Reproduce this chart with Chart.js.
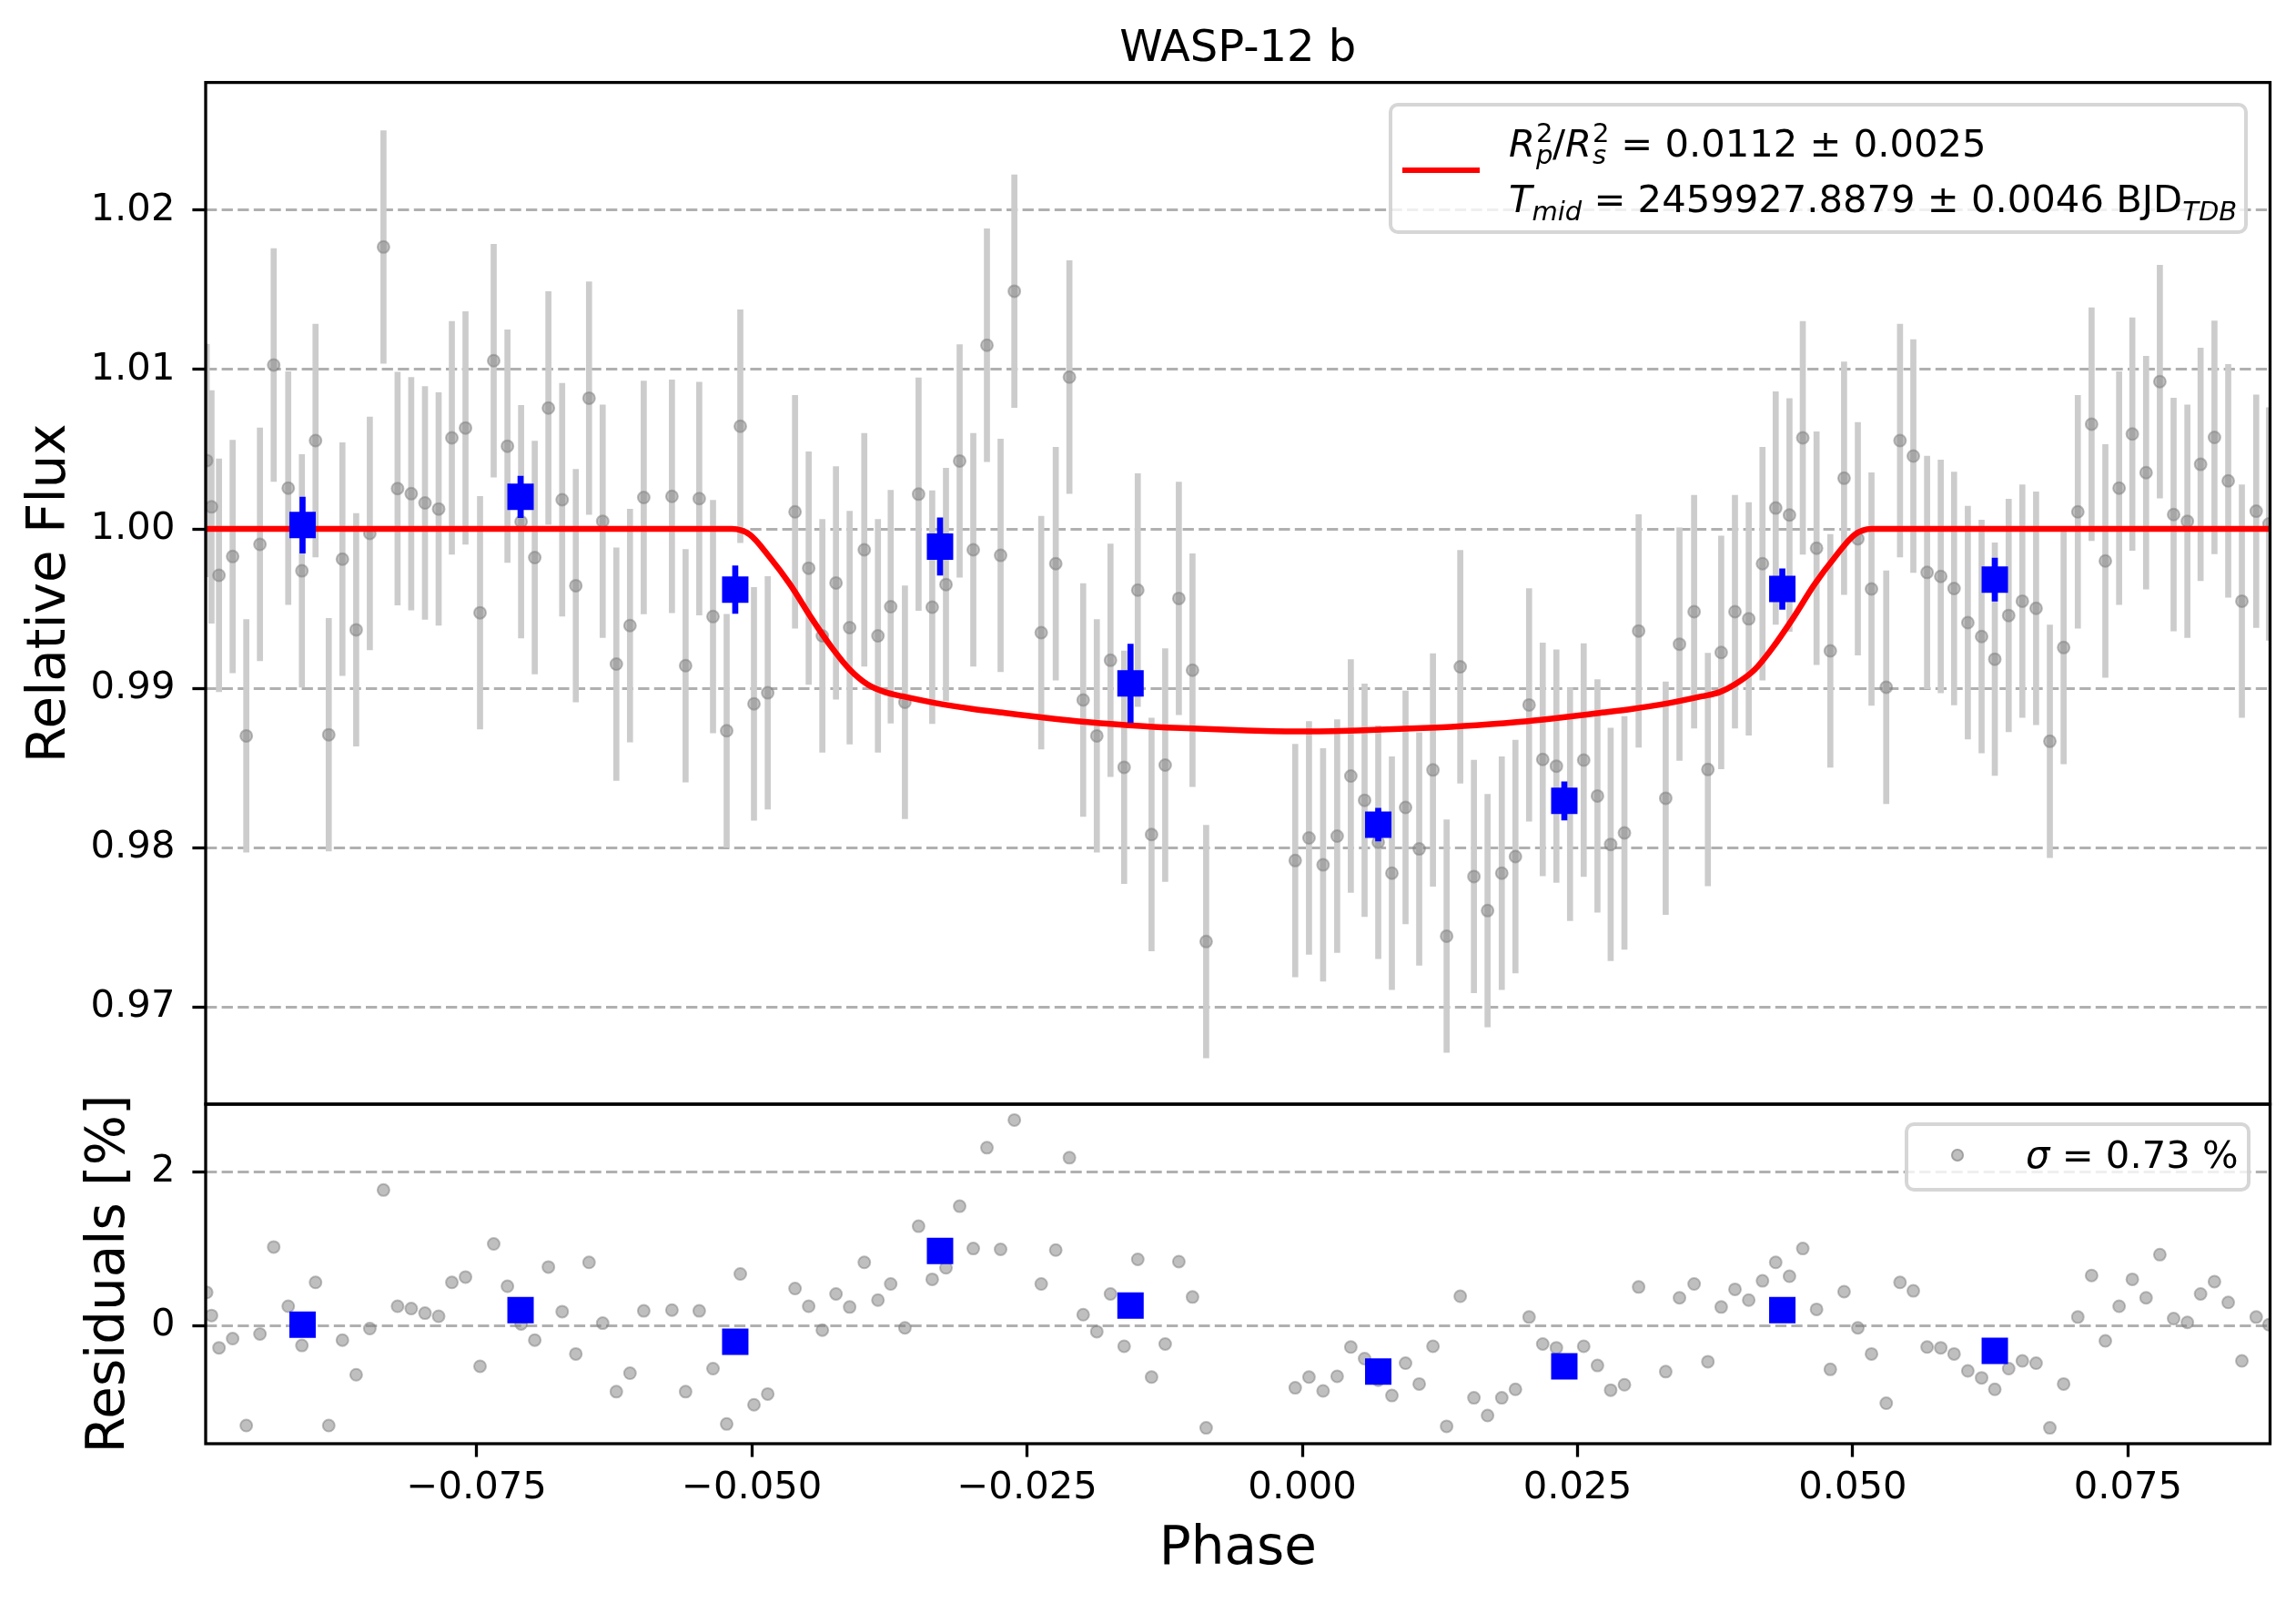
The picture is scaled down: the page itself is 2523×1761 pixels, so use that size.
<!DOCTYPE html>
<html>
<head>
<meta charset="utf-8">
<title>WASP-12 b</title>
<script src="https://cdn.jsdelivr.net/npm/chart.js@4.4.1/dist/chart.umd.min.js"></script>
<style>
  html, body { margin: 0; padding: 0; background: #fff; }
  #wrap { position: relative; width: 2523px; height: 1761px; overflow: hidden; font-family: 'DejaVu Sans', sans-serif; color: #000; }
  canvas { position: absolute; left: 0; top: 0; }
  .legend { position: absolute; box-sizing: border-box; background: rgba(255,255,255,0.8); border: 4px solid rgba(204,204,204,0.8); border-radius: 10px; }
  .txt { position: absolute; font-size: 41.7px; line-height: 1; white-space: nowrap; }
  .ss { display: inline-block; position: relative; width: 19px; height: 30px; }
  .ss .up, .ss .dn { position: absolute; left: 1px; font-size: 29px; line-height: 1; }
  .ss .up { top: -9.5px; }
  .ss .dn { top: 14.5px; font-style: italic; }
  .sb { position: relative; top: 9px; font-size: 29px; font-style: italic; }
</style>
</head>
<body>
<div id="wrap">
  <canvas id="fluxChart" width="2523" height="1761"></canvas>
  <canvas id="residChart" width="2523" height="1761"></canvas>

  <div class="legend" style="left:1526px; top:113px; width:944px; height:144px;"></div>
  <div style="position:absolute; left:1541px; top:183.75px; width:85px; height:6.5px; background:#ff0000;"></div>
  <div class="txt" style="left:1658px; top:136.7px;"><i>R</i><span class="ss"><span class="up">2</span><span class="dn">p</span></span>/<i>R</i><span class="ss"><span class="up">2</span><span class="dn">s</span></span> = 0.0112 ± 0.0025</div>
  <div class="txt" style="left:1658px; top:197.7px;"><i>T</i><span class="sb">mid</span> = 2459927.8879 ± 0.0046 BJD<span class="sb">TDB</span></div>

  <div class="legend" style="left:2093px; top:1233px; width:380px; height:76px;"></div>
  <div style="position:absolute; left:2144px; top:1262px; width:14px; height:14px; box-sizing:border-box; border-radius:50%; border:2px solid rgba(128,128,128,0.5); background:rgba(128,128,128,0.5);"></div>
  <div class="txt" style="left:2226px; top:1247.7px;"><i>σ</i> = 0.73 %</div>
</div>

<script>
// unbinned light curve
const phase = [
  -0.09951, -0.09907, -0.09839, -0.09715, -0.09591, -0.09467, -0.09342, -0.09210, -0.09086, -0.08962,
  -0.08842, -0.08718, -0.08593, -0.08469, -0.08345, -0.08217, -0.08093, -0.07968, -0.07844, -0.07724,
  -0.07600, -0.07468, -0.07344, -0.07219, -0.07095, -0.06971, -0.06847, -0.06722, -0.06598, -0.06478,
  -0.06354, -0.06230, -0.06106, -0.05981, -0.05725, -0.05601, -0.05477, -0.05352, -0.05228, -0.05104,
  -0.04980, -0.04855, -0.04607, -0.04483, -0.04359, -0.04235, -0.04111, -0.03978, -0.03854, -0.03738,
  -0.03609, -0.03485, -0.03361, -0.03236, -0.03112, -0.02988, -0.02864, -0.02740, -0.02615, -0.02371,
  -0.02239, -0.02115, -0.01990, -0.01866, -0.01742, -0.01618, -0.01494, -0.01369, -0.01245, -0.01121,
  -0.00997, -0.00873, -0.00064, 0.00061, 0.00189, 0.00317, 0.00441, 0.00566, 0.00690, 0.00814,
  0.00938, 0.01062, 0.01187, 0.01311, 0.01435, 0.01559, 0.01683, 0.01812, 0.01936, 0.02060,
  0.02184, 0.02308, 0.02432, 0.02556, 0.02681, 0.02801, 0.02926, 0.03055, 0.03301, 0.03426,
  0.03559, 0.03684, 0.03805, 0.03930, 0.04055, 0.04180, 0.04300, 0.04425, 0.04546, 0.04671,
  0.04796, 0.04921, 0.05046, 0.05170, 0.05304, 0.05429, 0.05550, 0.05675, 0.05799, 0.05920,
  0.06045, 0.06170, 0.06290, 0.06416, 0.06540, 0.06665, 0.06790, 0.06915, 0.07044, 0.07169,
  0.07294, 0.07419, 0.07539, 0.07664, 0.07789, 0.07914, 0.08039, 0.08159, 0.08285, 0.08410,
  0.08534, 0.08664, 0.08780
];
const flux = [
  1.00429, 1.00138, 0.99709, 0.99827, 0.98702, 0.99903, 1.01028, 1.00256, 0.99737, 1.00554,
  0.98709, 0.99810, 0.99367, 0.99972, 1.01768, 1.00253, 1.00221, 1.00163, 1.00125, 1.00571,
  1.00633, 0.99474, 1.01055, 1.00519, 1.00045, 0.99820, 1.00758, 1.00183, 0.99644, 1.00820,
  1.00048, 0.99152, 0.99394, 1.00197, 1.00204, 0.99142, 1.00190, 0.99450, 0.98734, 1.00644,
  0.98903, 0.98972, 1.00107, 0.99754, 0.99329, 0.99661, 0.99381, 0.99869, 0.99329, 0.99512,
  0.98913, 1.00218, 0.99509, 0.99651, 1.00426, 0.99869, 1.01152, 0.99834, 1.01491, 0.99349,
  0.99782, 1.00952, 0.98927, 0.98702, 0.99176, 0.98505, 0.99616, 0.98083, 0.98519, 0.99564,
  0.99114, 0.97412, 0.97920, 0.98062, 0.97893, 0.98073, 0.98450, 0.98298, 0.98035, 0.97841,
  0.98253, 0.97993, 0.98488, 0.97446, 0.99135, 0.97820, 0.97606, 0.97841, 0.97945, 0.98896,
  0.98554, 0.98512, 0.98273, 0.98550, 0.98325, 0.98021, 0.98093, 0.99360, 0.98311, 0.99277,
  0.99481, 0.98491, 0.99225, 0.99481, 0.99436, 0.99782, 1.00131, 1.00087, 1.00571, 0.99879,
  0.99235, 1.00318, 0.99938, 0.99623, 0.99007, 1.00554, 1.00457, 0.99727, 0.99702, 0.99626,
  0.99412, 0.99325, 0.99183, 0.99457, 0.99547, 0.99502, 0.98668, 0.99256, 1.00107, 1.00657,
  0.99799, 1.00256, 1.00595, 1.00353, 1.00924, 1.00090, 1.00048, 1.00405, 1.00574, 1.00301,
  0.99547, 1.00111, 1.00031
];
const fluxErr = 0.0073;
// residuals in percent
const resid = [
  0.43, 0.13, -0.29, -0.17, -1.30, -0.11, 1.02, 0.25, -0.26, 0.56,
  -1.30, -0.19, -0.64, -0.04, 1.76, 0.25, 0.22, 0.16, 0.12, 0.56,
  0.63, -0.53, 1.06, 0.51, 0.02, -0.19, 0.76, 0.18, -0.37, 0.82,
  0.03, -0.86, -0.62, 0.19, 0.20, -0.86, 0.19, -0.56, -1.28, 0.67,
  -1.03, -0.89, 0.48, 0.25, -0.06, 0.41, 0.24, 0.82, 0.33, 0.54,
  -0.03, 1.29, 0.60, 0.75, 1.55, 1.00, 2.31, 0.99, 2.67, 0.54,
  0.98, 2.18, 0.14, -0.08, 0.41, -0.27, 0.86, -0.67, -0.24, 0.83,
  0.37, -1.33, -0.81, -0.67, -0.85, -0.66, -0.28, -0.43, -0.71, -0.91,
  -0.49, -0.76, -0.27, -1.31, 0.38, -0.94, -1.17, -0.94, -0.83, 0.11,
  -0.24, -0.29, -0.54, -0.27, -0.52, -0.84, -0.77, 0.50, -0.60, 0.36,
  0.54, -0.47, 0.24, 0.47, 0.33, 0.58, 0.82, 0.64, 1.00, 0.21,
  -0.57, 0.44, -0.03, -0.37, -1.01, 0.56, 0.45, -0.28, -0.29, -0.37,
  -0.59, -0.68, -0.83, -0.56, -0.46, -0.49, -1.33, -0.76, 0.11, 0.65,
  -0.20, 0.25, 0.60, 0.36, 0.92, 0.09, 0.04, 0.41, 0.57, 0.30,
  -0.46, 0.11, 0.01
];

// binned points
const binPhase = [-0.0908, -0.0710, -0.0515, -0.0329, -0.0156, 0.0069, 0.0238, 0.0436, 0.0629];
const binFlux = [1.00024, 1.00201, 0.99619, 0.99889, 0.99031, 0.98145, 0.98294, 0.99623, 0.99682];
const binErr = [0.00176, 0.0013, 0.0015, 0.0018, 0.00247, 0.00103, 0.0012, 0.00127, 0.00135];
const binResid = [0.01, 0.20, -0.21, 0.97, 0.26, -0.60, -0.53, 0.20, -0.33];

// transit model
const modelPhase = [
  -0.0996, -0.0518, -0.0502, -0.0484, -0.0465, -0.0446, -0.0427, -0.0411, -0.0395, -0.0379,
  -0.0363, -0.0332, -0.0300, -0.0268, -0.0237, -0.0205, -0.0158, -0.0110, -0.0050, 0.0000,
  0.0050, 0.0110, 0.0158, 0.0205, 0.0237, 0.0268, 0.0300, 0.0332, 0.0363, 0.0379,
  0.0393, 0.0411, 0.0427, 0.0446, 0.0465, 0.0484, 0.0502, 0.0517, 0.0879
];
const modelFlux = [
  1.0000, 1.0000, 0.99965, 0.99825, 0.99650, 0.99443, 0.99253, 0.99118, 0.99025, 0.98976,
  0.98950, 0.98906, 0.98871, 0.98844, 0.98818, 0.98794, 0.98769, 0.98751, 0.98736, 0.98730,
  0.98736, 0.98751, 0.98769, 0.98794, 0.98818, 0.98844, 0.98871, 0.98906, 0.98950, 0.98976,
  0.99025, 0.99118, 0.99253, 0.99443, 0.99650, 0.99825, 0.99965, 1.0000, 1.0000
];

const fluxTicks = [0.97, 0.98, 0.99, 1.00, 1.01, 1.02];
const fluxTickLabels = ['0.97', '0.98', '0.99', '1.00', '1.01', '1.02'];
const residTicks = [0, 2];
const residTickLabels = ['0', '2'];
const phaseTicks = [-0.075, -0.05, -0.025, 0, 0.025, 0.05, 0.075];
const phaseTickLabels = ['\u22120.075', '\u22120.050', '\u22120.025', '0.000', '0.025', '0.050', '0.075'];

Chart.defaults.font.family = "'DejaVu Sans', sans-serif";
Chart.defaults.color = '#000';

const X_MIN = -0.0996, X_MAX = 0.0879;
const AXIS_W = 226;
const PAD_R = 28.5;
const TICK_FONT = { size: 41.7 };
const LABEL_FONT = { size: 58 };
const GREY = 'rgba(128,128,128,0.5)';

// matplotlib-style box around the plot area
const frame = {
    id: 'frame',
    afterDraw(chart) {
        const { ctx, chartArea: a } = chart;
        ctx.save();
        ctx.strokeStyle = '#000';
        ctx.lineWidth = 3.3;
        ctx.strokeRect(a.left, a.top, a.right - a.left, a.bottom - a.top);
        ctx.restore();
    }
};

const yGrid = { color: '#b0b0b0', lineWidth: 3, tickColor: '#000', tickWidth: 3.3, tickLength: 14.6, tickBorderDash: [] };
const yBorder = { display: false, dash: [12.3, 5.3] };

const errBars = (xs, ys, err) => xs.map((x, i) => ({ x, y: [ys[i] - (Array.isArray(err) ? err[i] : err), ys[i] + (Array.isArray(err) ? err[i] : err)] }));
const pts = (xs, ys) => xs.map((x, i) => ({ x, y: ys[i] }));

const common = {
    responsive: false,
    animation: false,
    events: [],
    plugins: { legend: { display: false }, tooltip: { enabled: false } }
};

// top panel: relative flux
new Chart(document.getElementById('fluxChart'), {
    type: 'scatter',
    data: {
        datasets: [
            { type: 'bar', data: errBars(phase, flux, fluxErr), backgroundColor: '#cccccc', borderWidth: 0, barThickness: 6, grouped: false, order: 5, clip: 0 },
            { type: 'scatter', data: pts(phase, flux), pointRadius: 6.5, pointBackgroundColor: GREY, pointBorderColor: GREY, pointBorderWidth: 2, order: 4, clip: 0 },
            { type: 'line', data: pts(modelPhase, modelFlux), borderColor: '#ff0000', borderWidth: 6.5, pointRadius: 0, fill: false, cubicInterpolationMode: 'monotone', order: 3, clip: 0 },
            { type: 'bar', data: errBars(binPhase, binFlux, binErr), backgroundColor: '#0000ff', borderWidth: 0, barThickness: 6, grouped: false, order: 2, clip: 0 },
            { type: 'scatter', data: pts(binPhase, binFlux), pointStyle: 'rect', pointRadius: 20.5, pointBackgroundColor: '#0000ff', pointBorderWidth: 0, order: 1, clip: 0 }
        ]
    },
    options: {
        ...common,
        layout: { padding: { left: 0, right: PAD_R, top: 0, bottom: 1761 - 1213 } },
        plugins: {
            ...common.plugins,
            title: { display: true, text: 'WASP-12 b', fullSize: false, font: { size: 48, weight: 'normal' }, color: '#000', padding: { top: 26, bottom: 7 } }
        },
        scales: {
            x: { type: 'linear', min: X_MIN, max: X_MAX, display: false, offset: false },
            y: {
                type: 'linear', min: 0.96392, max: 1.0280, beginAtZero: false,
                afterFit: s => { s.width = AXIS_W; },
                afterBuildTicks: s => { s.ticks = fluxTicks.map(v => ({ value: v })); },
                ticks: { font: TICK_FONT, color: '#000', padding: 19, callback: (v, i) => fluxTickLabels[i] },
                grid: yGrid,
                border: yBorder,
                title: { display: true, text: 'Relative Flux', font: LABEL_FONT, color: '#000', padding: { top: 21, bottom: 0 } }
            }
        }
    },
    plugins: [frame]
});

// bottom panel: residuals
new Chart(document.getElementById('residChart'), {
    type: 'scatter',
    data: {
        datasets: [
            { type: 'scatter', data: pts(phase, resid), pointRadius: 6.5, pointBackgroundColor: GREY, pointBorderColor: GREY, pointBorderWidth: 2, order: 2, clip: 0 },
            { type: 'scatter', data: pts(binPhase, binResid), pointStyle: 'rect', pointRadius: 20.5, pointBackgroundColor: '#0000ff', pointBorderWidth: 0, order: 1, clip: 0 }
        ]
    },
    options: {
        ...common,
        layout: { padding: { left: 0, right: PAD_R, top: 1213, bottom: 0 } },
        scales: {
            x: {
                type: 'linear', min: X_MIN, max: X_MAX, offset: false,
                afterFit: s => { s.height = 1761 - 1586; },
                afterBuildTicks: s => { s.ticks = phaseTicks.map(v => ({ value: v })); },
                ticks: { font: TICK_FONT, color: '#000', padding: 10, maxRotation: 0, autoSkip: false, callback: (v, i) => phaseTickLabels[i] },
                grid: { drawOnChartArea: false, drawTicks: true, tickColor: '#000', tickWidth: 3.3, tickLength: 14.6, tickBorderDash: [] },
                border: { display: false },
                title: { display: true, text: 'Phase', font: LABEL_FONT, color: '#000', padding: { top: 0, bottom: 23.6 } }
            },
            y: {
                type: 'linear', min: -1.536, max: 2.876, beginAtZero: false,
                afterFit: s => { s.width = AXIS_W; },
                afterBuildTicks: s => { s.ticks = residTicks.map(v => ({ value: v })); },
                ticks: { font: TICK_FONT, color: '#000', padding: 19, callback: (v, i) => residTickLabels[i] },
                grid: yGrid,
                border: yBorder,
                title: { display: true, text: 'Residuals [%]', font: LABEL_FONT, color: '#000', padding: { top: 86, bottom: 0 } }
            }
        }
    },
    plugins: [frame]
});
</script>
</body>
</html>
